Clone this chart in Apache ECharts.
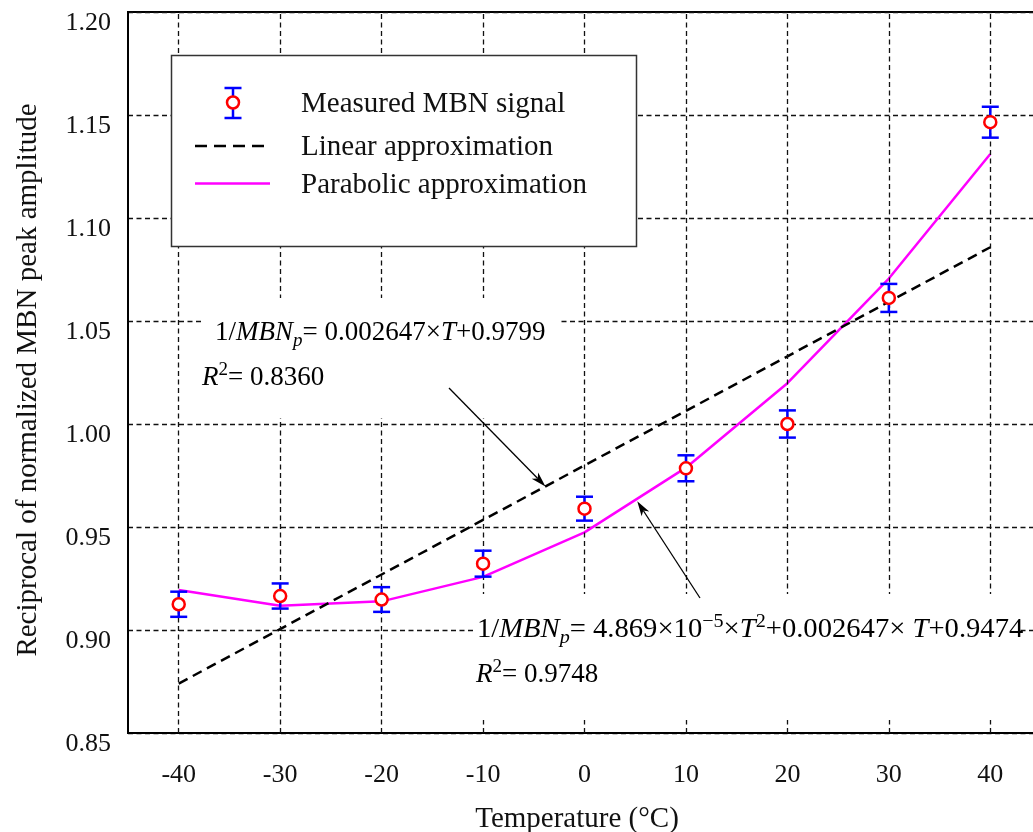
<!DOCTYPE html>
<html>
<head>
<meta charset="utf-8">
<script src="https://cdn.jsdelivr.net/npm/echarts@6/dist/echarts.min.js"></script>
<style>
  html, body { margin: 0; padding: 0; background: #fff; }
  #chart { width: 1033px; height: 832px; }
</style>
</head>
<body>
<div id="chart"></div>
<script>
// Temperatures (°C) at which the MBN signal was measured
const temperatures = [-40, -30, -20, -10, 0, 10, 20, 30, 40];
// Reciprocal of the normalized MBN peak amplitude (mean) and its error half-width
const measured    = [0.9125, 0.9165, 0.9148, 0.9322, 0.9589, 0.9785, 1.0000, 1.0612, 1.1465];
const measuredErr = [0.0061, 0.0061, 0.0060, 0.0063, 0.0058, 0.0063, 0.0066, 0.0068, 0.0075];
// Parabolic fit evaluated at each measured temperature
const parabolicFit = [0.9194, 0.9118, 0.9139, 0.9258, 0.9474, 0.9788, 1.0198, 1.0706, 1.1311];
// Linear fit end points [T, value]
const linearFit = [[-40, 0.8740], [40, 1.0858]];
// Axis tick values
const xTickValues = [-40, -30, -20, -10, 0, 10, 20, 30, 40];
const legendNames = ['Measured MBN signal', 'Linear approximation', 'Parabolic approximation'];
// Points on the fitted curves that the equation arrows point at [T, value]
const linearArrowTarget = [-3.85, 0.9697];
const parabolicArrowTarget = [5.2, 0.9625];

const SERIF = 'Liberation Serif';
const INK = '#111';

const chart = echarts.init(document.getElementById('chart'), null, { renderer: 'canvas' });

function arrow(id, from, to) {
  const dx = to[0] - from[0], dy = to[1] - from[1];
  const len = Math.sqrt(dx * dx + dy * dy);
  const ux = dx / len, uy = dy / len;
  const px = -uy, py = ux;
  const L = 15, W = 4.5, N = 11;
  const base = [to[0] - ux * L, to[1] - uy * L];
  const notch = [to[0] - ux * N, to[1] - uy * N];
  return [
    { type: 'line', id: id + '-shaft', z: 120,
      shape: { x1: from[0], y1: from[1], x2: notch[0], y2: notch[1] },
      style: { stroke: '#000', lineWidth: 1.3 } },
    { type: 'polygon', id: id + '-head', z: 120,
      shape: { points: [to, [base[0] + px * W, base[1] + py * W], notch, [base[0] - px * W, base[1] - py * W]] },
      style: { fill: '#000' } }
  ];
}

const eqRich = {
  n:   { fontFamily: SERIF, fontSize: 27, color: INK },
  i:   { fontFamily: SERIF, fontSize: 27, fontStyle: 'italic', color: INK },
  sub: { fontFamily: SERIF, fontSize: 19, fontStyle: 'italic', color: INK, padding: [16, 0, 0, 0] },
  sup: { fontFamily: SERIF, fontSize: 19, color: INK, padding: [0, 0, 16, 0] }
};

function eqText(id, x, y, text, sx) {
  return { type: 'text', id: id, z: 110, x: x, y: y, scaleX: sx || 1,
    style: { text: text, rich: eqRich, verticalAlign: 'middle', align: 'left' } };
}

function buildGraphic() {
  const g = [];
  // legend box
  g.push({ type: 'rect', id: 'legend-box', z: 100,
    shape: { x: 171.5, y: 55.5, width: 465, height: 191 },
    style: { fill: '#fff', stroke: '#333', lineWidth: 1.5 } });
  // measured-signal symbol
  g.push({ type: 'line', id: 'lg-err', z: 101, shape: { x1: 233, y1: 88, x2: 233, y2: 118 }, style: { stroke: '#0000ff', lineWidth: 2.5 } });
  g.push({ type: 'line', id: 'lg-cap1', z: 101, shape: { x1: 224.5, y1: 88, x2: 241.5, y2: 88 }, style: { stroke: '#0000ff', lineWidth: 2.5 } });
  g.push({ type: 'line', id: 'lg-cap2', z: 101, shape: { x1: 224.5, y1: 118, x2: 241.5, y2: 118 }, style: { stroke: '#0000ff', lineWidth: 2.5 } });
  g.push({ type: 'circle', id: 'lg-dot', z: 102, shape: { cx: 233, cy: 102.5, r: 6 }, style: { fill: '#fff', stroke: '#ff0000', lineWidth: 2.5 } });
  g.push({ type: 'line', id: 'lg-lin', z: 101, shape: { x1: 195, y1: 146, x2: 270, y2: 146 }, style: { stroke: '#000', lineWidth: 2.5, lineDash: [12, 7] } });
  g.push({ type: 'line', id: 'lg-par', z: 101, shape: { x1: 195, y1: 183.5, x2: 270, y2: 183.5 }, style: { stroke: '#ff00ff', lineWidth: 2.5 } });
  const rowsY = [104, 147.5, 185];
  legendNames.forEach((name, k) => {
    g.push({ type: 'text', id: 'lg-t' + k, z: 101, x: 301, y: rowsY[k],
      style: { text: name, fontFamily: SERIF, fontSize: 29, fill: INK, verticalAlign: 'middle', align: 'left' } });
  });
  // white panels behind the fit equations
  g.push({ type: 'rect', id: 'eq1-bg', z: 100, shape: { x: 202, y: 298, width: 356, height: 120 }, style: { fill: '#fff' } });
  g.push({ type: 'rect', id: 'eq2-bg', z: 100, shape: { x: 476, y: 594, width: 544, height: 126 }, style: { fill: '#fff' } });
  g.push(eqText('eq1', 215, 333, '{n|1/}{i|MBN}{sub|p}{n|= 0.002647×}{i|T}{n|+0.9799}'));
  g.push(eqText('eq1r', 202, 378, '{i|R}{sup|2}{n|= 0.8360}'));
  g.push(eqText('eq2', 477, 630, '{n|1/}{i|MBN}{sub|p}{n|= 4.869×10}{sup|−5}{n|×}{i|T}{sup|2}{n|+0.002647× }{i|T}{n|+0.9474}', 1.06));
  g.push(eqText('eq2r', 476, 675, '{i|R}{sup|2}{n|= 0.9748}'));
  // arrows pointing at the fitted curves
  const tip1 = chart.convertToPixel({ gridIndex: 0 }, linearArrowTarget);
  const tip2 = chart.convertToPixel({ gridIndex: 0 }, parabolicArrowTarget);
  arrow('ar1', [449, 388], tip1).forEach(e => g.push(e));
  arrow('ar2', [700, 598], tip2).forEach(e => g.push(e));
  return g;
}

const option = {
  animation: false,
  backgroundColor: '#fff',
  grid: {
    left: 128, top: 12, width: 913, height: 721,
    outerBoundsMode: 'none', containLabel: false,
    show: true, borderColor: '#000', borderWidth: 2, backgroundColor: 'transparent'
  },
  xAxis: {
    type: 'value', min: -45, max: 45, interval: 5,
    axisLine: { show: true, onZero: false, lineStyle: { color: '#000', width: 2 } },
    axisTick: { show: false },
    splitLine: { show: false },
    axisLabel: {
      margin: 29, fontFamily: SERIF, fontSize: 26, color: INK,
      formatter: v => (xTickValues.indexOf(v) >= 0 ? String(v) : '')
    },
    name: 'Temperature (°C)', nameLocation: 'middle', nameGap: 72,
    nameTextStyle: { fontFamily: SERIF, fontSize: 29, color: INK, padding: [0, 15, 0, 0] }
  },
  yAxis: {
    type: 'value', min: 0.85, max: 1.20, interval: 0.05,
    axisLine: { show: true, onZero: false, lineStyle: { color: '#000', width: 2 } },
    axisTick: { show: false },
    splitLine: { show: true, lineStyle: { color: INK, width: 1.3, type: [5, 3.5] } },
    axisLabel: {
      margin: 17, fontFamily: SERIF, fontSize: 26, color: INK,
      verticalAlign: 'top', lineHeight: 23,
      formatter: v => v.toFixed(2)
    },
    name: 'Reciprocal of normalized MBN peak amplitude', nameLocation: 'middle', nameGap: 85,
    nameTextStyle: { fontFamily: SERIF, fontSize: 29, color: INK, padding: [0, 15, 0, 0] }
  },
  series: [
    {
      // vertical grid lines at the labelled temperatures
      type: 'line', data: [], z: 1, silent: true,
      markLine: {
        silent: true, symbol: ['none', 'none'], animation: false,
        label: { show: false },
        lineStyle: { color: INK, width: 1.3, type: [5, 3.5] },
        emphasis: { disabled: true },
        data: xTickValues.map(v => ({ xAxis: v }))
      }
    },
    {
      name: legendNames[2], type: 'line', z: 3, symbol: 'none',
      data: temperatures.map((t, i) => [t, parabolicFit[i]]),
      lineStyle: { color: '#ff00ff', width: 2.5 }
    },
    {
      name: legendNames[1], type: 'line', z: 4, symbol: 'none',
      data: linearFit,
      lineStyle: { color: '#000', width: 2.5, type: [10, 6] }
    },
    {
      name: legendNames[0] + ' error', type: 'custom', z: 5,
      data: temperatures.map((t, i) => [t, measured[i] - measuredErr[i], measured[i] + measuredErr[i]]),
      renderItem: (params, api) => {
        const lo = api.coord([api.value(0), api.value(1)]);
        const hi = api.coord([api.value(0), api.value(2)]);
        const half = 8.5;
        const st = { stroke: '#0000ff', lineWidth: 2.5 };
        return { type: 'group', children: [
          { type: 'line', shape: { x1: lo[0], y1: lo[1], x2: hi[0], y2: hi[1] }, style: st },
          { type: 'line', shape: { x1: lo[0] - half, y1: lo[1], x2: lo[0] + half, y2: lo[1] }, style: st },
          { type: 'line', shape: { x1: hi[0] - half, y1: hi[1], x2: hi[0] + half, y2: hi[1] }, style: st }
        ] };
      },
      encode: { x: 0, y: [1, 2] }
    },
    {
      name: legendNames[0], type: 'scatter', z: 6,
      data: temperatures.map((t, i) => [t, measured[i]]),
      symbol: 'circle', symbolSize: 12,
      itemStyle: { color: '#fff', borderColor: '#ff0000', borderWidth: 2.5, opacity: 1 }
    }
  ]
};

chart.setOption(option);
chart.setOption({ graphic: buildGraphic() });
</script>
</body>
</html>
